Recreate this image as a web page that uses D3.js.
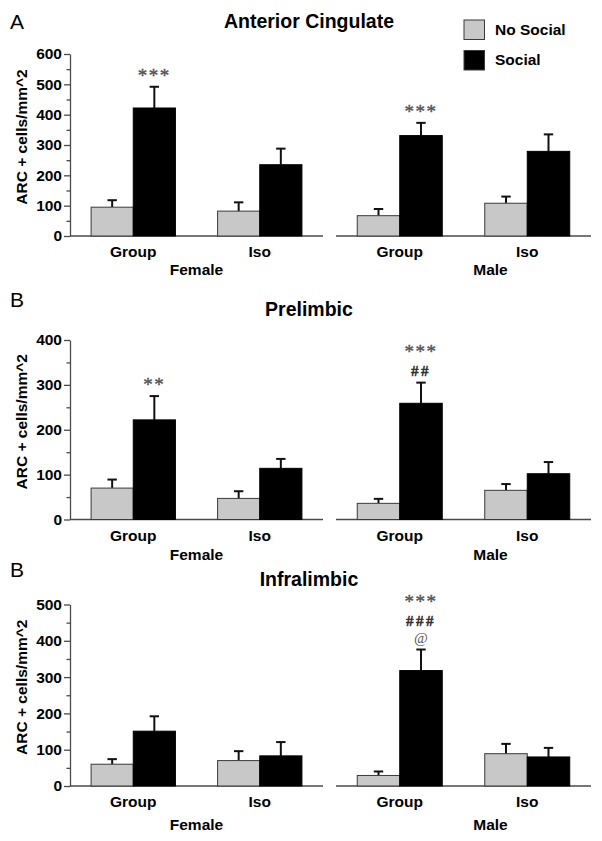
<!DOCTYPE html>
<html><head><meta charset="utf-8">
<script src="https://cdn.jsdelivr.net/npm/d3@7"></script>
<style>body{margin:0;background:#fff} svg{display:block}</style>
</head><body><svg id="c" width="602" height="841"></svg>
<script>
// ---------- data ----------
const groups = ["Group", "Iso"];
const sexes = ["Female", "Male"];
const seriesNames = ["No Social", "Social"];
const panelLetters = ["A", "B", "B"];
const panelTitles = ["Anterior Cingulate", "Prelimbic", "Infralimbic"];
const yMaxima = [600, 400, 500];
const yAxisTitle = "ARC + cells/mm^2";
// order of values: Female-Group, Female-Iso, Male-Group, Male-Iso
const acNoSocialMean = [95, 82, 67, 108];
const acNoSocialSem  = [23, 29, 22, 22];
const acSocialMean   = [422, 235, 331, 279];
const acSocialSem    = [70, 53, 42, 56];
const plNoSocialMean = [70, 47, 36, 65];
const plNoSocialSem  = [19, 16, 10, 14];
const plSocialMean   = [222, 114, 259, 102];
const plSocialSem    = [53, 21, 46, 26];
const ilNoSocialMean = [60, 70, 29, 89];
const ilNoSocialSem  = [14, 26, 11, 27];
const ilSocialMean   = [151, 83, 318, 80];
const ilSocialSem    = [41, 38, 58, 25];
// significance marks above the Social bars
const acMarks = [["***"], [], ["***"], []];
const plMarks = [["**"], [], ["***", "##"], []];
const ilMarks = [[], [], ["***", "###", "@"], []];

// ---------- layout ----------
const W = 602, H = 841;
const plotTop = [54, 340, 604.5];
const plotBottom = [236, 519.5, 786];
const sexRanges = [[70, 323], [336, 591]];
const titleY = [28, 316, 586];
const letterY = [29, 307, 577];
const sexGap = [39, 40, 44];
const colors = {"No Social": "#c8c8c8", "Social": "#000000"};
const axisColor = "#4a4a4a";
const font = "Arial, 'Liberation Sans', sans-serif";
const markFont = "'Liberation Serif', 'Times New Roman', serif";
const starSize = 19, otherMarkSize = 15;
const ASC = 0.891, DESC = 0.216; // Liberation Serif vertical metrics

const panels = [
  {no: acNoSocialMean, noSem: acNoSocialSem, so: acSocialMean, soSem: acSocialSem, marks: acMarks},
  {no: plNoSocialMean, noSem: plNoSocialSem, so: plSocialMean, soSem: plSocialSem, marks: plMarks},
  {no: ilNoSocialMean, noSem: ilNoSocialSem, so: ilSocialMean, soSem: ilSocialSem, marks: ilMarks}
];

const svg = d3.select("#c");
svg.append("rect").attr("width", W).attr("height", H).attr("fill", "#fff");

panels.forEach((P, p) => {
  const g = svg.append("g");
  const y = d3.scaleLinear().domain([0, yMaxima[p]]).range([plotBottom[p], plotTop[p]]);

  g.append("text").attr("x", 10).attr("y", letterY[p]).text(panelLetters[p])
    .attr("font-family", font).attr("font-size", 21).attr("fill", "#000");
  g.append("text").attr("x", 309).attr("y", titleY[p]).attr("text-anchor", "middle")
    .text(panelTitles[p]).attr("font-family", font).attr("font-weight", "bold")
    .attr("font-size", 19.5).attr("fill", "#000");
  const yc = (plotTop[p] + plotBottom[p]) / 2 - 8;
  g.append("text").attr("transform", `translate(21,${yc}) rotate(-90)`)
    .attr("text-anchor", "middle").attr("dominant-baseline", "central")
    .text(yAxisTitle).attr("font-family", font).attr("font-weight", "bold")
    .attr("font-size", 15.5).attr("fill", "#000");

  const x0 = sexRanges[0][0];
  const major = d3.axisLeft(y).tickValues(d3.range(0, yMaxima[p] + 1, 100))
    .tickSize(6).tickSizeOuter(0).tickPadding(2).tickFormat(d3.format("d"));
  const ax = g.append("g").attr("transform", `translate(${x0},0)`).call(major);
  ax.selectAll("path,line").attr("stroke", axisColor).attr("stroke-width", 1.3);
  ax.selectAll("text").attr("font-family", font).attr("font-weight", "bold")
    .attr("font-size", 15.5).attr("fill", "#000");
  const minor = d3.axisLeft(y).tickValues(d3.range(50, yMaxima[p], 100))
    .tickSize(3.5).tickSizeOuter(0).tickFormat("");
  const mx = g.append("g").attr("transform", `translate(${x0},0)`).call(minor);
  mx.select("path").remove();
  mx.selectAll("line").attr("stroke", axisColor).attr("stroke-width", 1.3);

  sexes.forEach((sex, s) => {
    const [a, b] = sexRanges[s];
    const x = d3.scaleBand().domain(groups).range([a, b]);
    const xs = d3.scaleBand().domain(seriesNames).range([0, x.bandwidth()]).paddingOuter(0.5);
    const bw = xs.bandwidth();

    g.append("line").attr("x1", a).attr("x2", b).attr("y1", y(0)).attr("y2", y(0))
      .attr("stroke", axisColor).attr("stroke-width", 1.3);

    groups.forEach((grp, gi) => {
      const idx = s * 2 + gi;
      const vals = [
        {series: "No Social", m: P.no[idx], e: P.noSem[idx], marks: []},
        {series: "Social", m: P.so[idx], e: P.soSem[idx], marks: P.marks[idx]}
      ];
      vals.forEach(v => {
        const bx = x(grp) + xs(v.series);
        const cx = bx + bw / 2;
        const top = y(v.m + v.e);
        g.append("line").attr("x1", cx).attr("x2", cx).attr("y1", y(v.m)).attr("y2", top)
          .attr("stroke", "#111").attr("stroke-width", 2);
        g.append("line").attr("x1", cx - 4.7).attr("x2", cx + 4.7)
          .attr("y1", top).attr("y2", top)
          .attr("stroke", "#111").attr("stroke-width", 2);
        g.append("rect").attr("x", bx).attr("width", bw)
          .attr("y", y(v.m)).attr("height", y(0) - y(v.m))
          .attr("fill", colors[v.series])
          .attr("stroke", v.series === "Social" ? "#000" : "#3a3a3a").attr("stroke-width", 1);
        // significance marks stacked above the error bar (bottom-up)
        const n = v.marks.length;
        if (n) {
          const sizes = v.marks.map(mk => mk.startsWith("*") ? starSize : otherMarkSize);
          const bases = new Array(n);
          bases[n - 1] = top - (v.marks[n - 1].startsWith("*") ? 5 : 7);
          for (let k = n - 2; k >= 0; k--) {
            bases[k] = bases[k + 1] - (ASC * sizes[k + 1] + DESC * sizes[k] + 0.4);
          }
          v.marks.forEach((mk, k) => {
            const isStar = mk.startsWith("*");
            const isHash = mk.startsWith("#");
            g.append("text").attr("x", cx).attr("y", bases[k])
              .attr("text-anchor", "middle").attr("font-family", markFont)
              .attr("font-size", sizes[k]).attr("fill", isHash ? "#333" : "#555")
              .attr("letter-spacing", mk === "@" ? 0 : (isStar ? 1.5 : 2.5))
              .attr("stroke", isStar ? "#555" : (isHash ? "#333" : "none"))
              .attr("stroke-width", isStar ? 0.4 : (isHash ? 0.6 : 0))
              .text(mk);
          });
        }
      });
      g.append("text").attr("x", x(grp) + x.bandwidth() / 2).attr("y", y(0) + 21)
        .attr("text-anchor", "middle").text(grp)
        .attr("font-family", font).attr("font-weight", "bold").attr("font-size", 15.5).attr("fill", "#000");
    });
    const sx = (a + b) / 2 + (s === 1 ? 27 : 0);
    g.append("text").attr("x", sx).attr("y", y(0) + sexGap[p]).attr("text-anchor", "middle")
      .text(sex).attr("font-family", font).attr("font-weight", "bold").attr("font-size", 15.5).attr("fill", "#000");
  });
});

// legend
const leg = svg.append("g");
seriesNames.forEach((name, i) => {
  leg.append("rect").attr("x", 464).attr("y", 20 + i * 30.5).attr("width", 20.5).attr("height", 19.5)
    .attr("fill", colors[name]).attr("stroke", "#3a3a3a").attr("stroke-width", 1);
  leg.append("text").attr("x", 495).attr("y", 35 + i * 29.5).text(name)
    .attr("font-family", font).attr("font-weight", "bold").attr("font-size", 15.5).attr("fill", "#000");
});
</script></body></html>
